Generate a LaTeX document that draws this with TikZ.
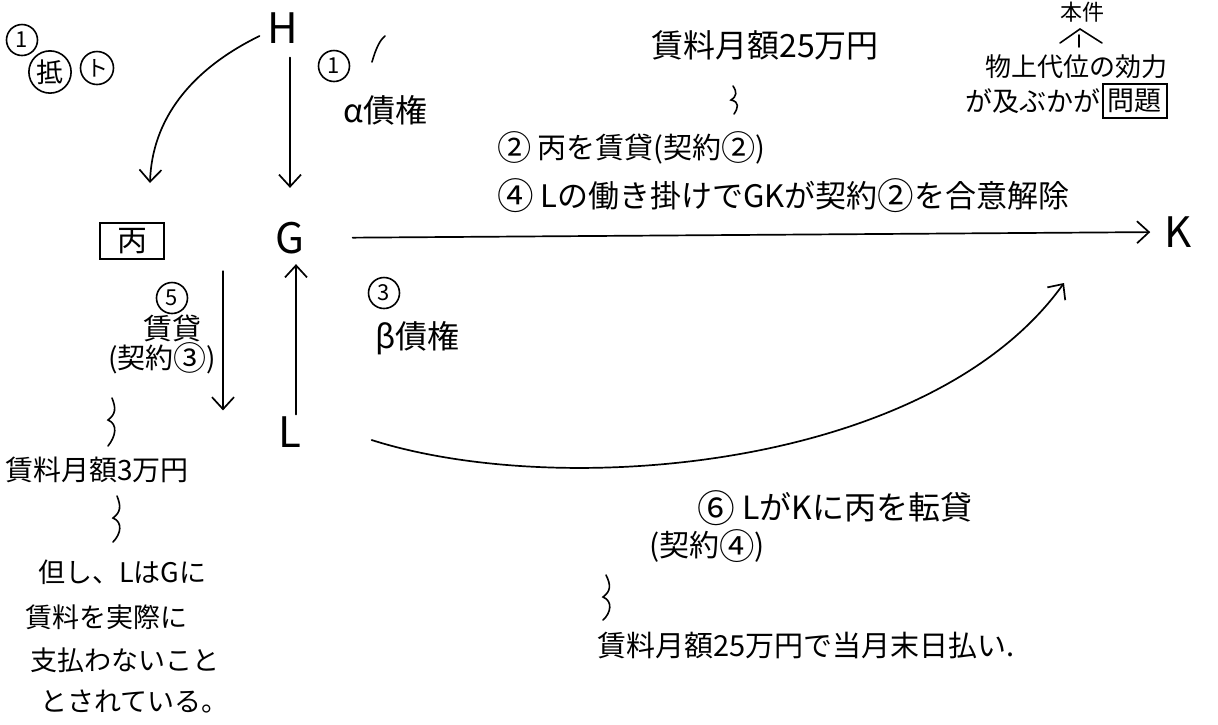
\documentclass[tikz,border=0pt]{standalone}
\usepackage{fontspec}
\usepackage{graphicx}
\setmainfont{Noto Sans CJK JP}
\usetikzlibrary{arrows.meta}
\newcommand\cnum[1]{\raisebox{-0.08em}{\scalebox{1.18}{#1}}}
\begin{document}
\begin{tikzpicture}[x=1pt,y=-1pt,
  txt/.style={font=\fontsize{27}{30}\selectfont, inner sep=0pt},
  wtxt/.style={txt, anchor=west},
  big/.style={font=\fontsize{42}{44}\selectfont, inner sep=0pt},
  circnum/.style={draw, circle, line width=1.6pt, inner sep=0pt, minimum size=31pt, font=\fontsize{22}{24}\selectfont},
  conn/.style={line width=1.7pt, line cap=round, -{Straight Barb[length=12pt,width=22pt,line width=1.7pt]}},
  squig/.style={line width=1.6pt, line cap=round}]
\useasboundingbox (0,0) rectangle (1218,724);

% main letters
\node[big] (H) at (283,28) {H};
\node[big] (G) at (290,238) {G};
\node[big] (L) at (290,432) {L};
\node[big] (K) at (1178,232) {K};
\node[font=\fontsize{30}{32}\selectfont, draw, line width=1.6pt, inner xsep=17pt, inner ysep=5pt] (hei) at (132,241) {丙};

% top-left marks
\node[circnum] (n1a) at (22,40) {1};
\node[txt, draw, circle, line width=1.6pt, inner sep=2pt] (tei) at (50,72) {抵};
\node[circnum, minimum size=33pt] (to) at (97,68) {ト};

% connectors
\coordinate (heiTip) at (150,183);
\draw[conn] ([xshift=-8pt,yshift=-8pt]H.west) .. controls (190,70) and (152,120) .. (heiTip);
\draw[conn, shorten <=14pt, shorten >=34pt] ([xshift=7pt]H.south) -- (G.north);
\draw[conn, shorten <=48pt, shorten >=14pt] (G.east) -- (K.west);
\draw[conn, shorten <=17pt, shorten >=6pt] ([xshift=-67pt]G.south) -- ([xshift=-67pt]L.north);
\draw[conn, shorten <=2pt, shorten >=10pt] ([xshift=6pt]L.north) -- ([xshift=6pt]G.south);
\coordinate (kTip) at (1064,283);
\draw[conn] ([xshift=70pt,yshift=-8pt]L.east) .. controls (560,500) and (930,470) .. (kTip);

% labels near H-G
\node[circnum] (n1b) at (334,66) {1};
\draw[squig] (372,62) .. controls (376,48) and (380,40) .. (385,36);
\node[wtxt, font=\fontsize{32}{34}\selectfont] (alpha) at (343,110) {α債権};

% top middle
\node[txt, font=\fontsize{32}{34}\selectfont] (rent25) at (765,45) {賃料月額25万円};
\draw[squig] (733,86) .. controls (737,92) and (737,96) .. (731,100) .. controls (740,102) and (738,108) .. (734,114);
\node[wtxt, font=\fontsize{29}{31}\selectfont] (l2) at (497,148) {\cnum{②} 丙を賃貸(契約\cnum{②})};
\node[wtxt, font=\fontsize{31}{33}\selectfont] (l4) at (497,196) {\cnum{④} Lの働き掛けでGKが契約\cnum{②}を合意解除};

% top right
\node[txt, font=\fontsize{22}{24}\selectfont] (honken) at (1082,12) {本件};
\draw[squig] (1060,43) -- (1080,29) -- (1102,43);
\draw[squig] (1079,35) -- (1079,47);
\node[wtxt, font=\fontsize{26}{28}\selectfont] (bussin) at (985,67) {物上代位の効力};
\node[wtxt] (oyobu) at (965,101) {が及ぶかが};
\node[txt, draw, line width=1.5pt, inner sep=5pt, anchor=west] (mondai) at (1102,101) {問題};

% left column
\node[circnum] (n5) at (172,298) {5};
\node[txt, font=\fontsize{29}{31}\selectfont] (chin) at (172,328) {賃貸};
\node[txt, font=\fontsize{28}{30}\selectfont] (k3) at (162,358) {(契約\cnum{③})};
\draw[squig] (112,398) .. controls (116,408) and (116,414) .. (108,420) .. controls (118,424) and (116,436) .. (108,446);
\node[wtxt, font=\fontsize{28}{30}\selectfont] (rent3) at (5,470) {賃料月額3万円};
\draw[squig] (117,496) .. controls (121,506) and (121,512) .. (113,518) .. controls (123,522) and (121,534) .. (113,542);
\node[wtxt] (t1) at (38,572) {但し、LはGに};
\node[wtxt] (t2) at (25,617) {賃料を実際に};
\node[wtxt] (t3) at (30,660) {支払わないこと};
\node[wtxt] (t4) at (40,702) {とされている。};

% middle labels
\node[circnum] (n3) at (384,293) {3};
\node[wtxt, font=\fontsize{32}{34}\selectfont] (beta) at (375,338) {β債権};

% bottom
\node[wtxt, font=\fontsize{32}{34}\selectfont] (l6) at (697,508) {\cnum{⑥} LがKに丙を転貸};
\node[txt, font=\fontsize{30}{32}\selectfont] (k4) at (707,546) {(契約\cnum{④})};
\draw[squig] (606,575) .. controls (611,585) and (611,591) .. (603,597) .. controls (613,601) and (611,613) .. (603,620);
\node[wtxt, font=\fontsize{29}{31}\selectfont] (last) at (597,645) {賃料月額25万円で当月末日払い.};
\end{tikzpicture}
\end{document}
